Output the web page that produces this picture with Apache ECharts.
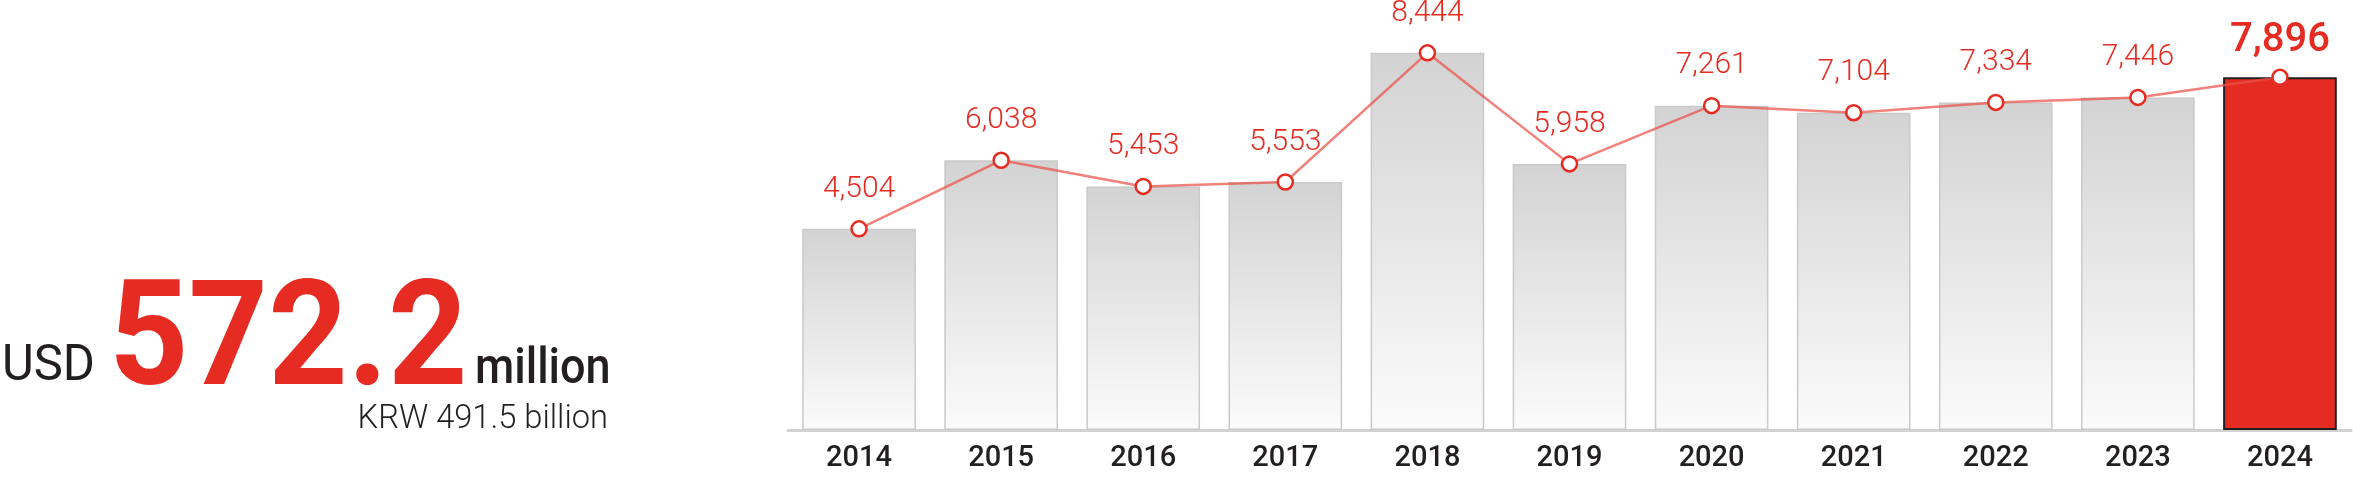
<!DOCTYPE html>
<html>
<head>
<meta charset="utf-8">
<style>
  html, body { margin: 0; padding: 0; background: #fff; }
  #chart { width: 2353px; height: 478px; }
</style>
<script src="https://cdn.jsdelivr.net/npm/echarts@6/dist/echarts.min.js"></script>
</head>
<body>
<div id="chart"></div>
<script>
// yearly values (bars and line share them)
const years = ['2014', '2015', '2016', '2017', '2018', '2019', '2020', '2021', '2022', '2023', '2024'];
const values = [4504, 6038, 5453, 5553, 8444, 5958, 7261, 7104, 7334, 7446, 7896];

const RED = '#e52b22';
const INK = '#231f20';

const chart = echarts.init(document.getElementById('chart'));

const last = values.length - 1;

const barData = values.map((v, i) => {
    if (i === last) {
        return { value: v, itemStyle: { color: RED, borderColor: INK, borderWidth: 2 } };
    }
    return v;
});

const lineData = values.map((v, i) => {
    if (i === last) {
        return {
            value: v,
            label: { fontSize: 40, fontWeight: 500, distance: 8 }
        };
    }
    return v;
});

// headline text, slightly narrowed horizontally
const headline = (text, x, y, font, color, scaleX, align) => ({
    type: 'text',
    x: x,
    y: y,
    scaleX: scaleX,
    style: {
        text: text,
        fill: color,
        font: font,
        align: align || 'left',
        verticalAlign: 'middle'
    }
});

const option = {
    animation: false,
    grid: { left: 788, right: 2, top: 28, bottom: 48 },
    xAxis: {
        type: 'category',
        data: years,
        axisLine: { lineStyle: { color: '#d2d2d2', width: 3 } },
        axisTick: { show: false },
        axisLabel: {
            color: INK,
            fontSize: 29,
            fontWeight: 500,
            fontFamily: 'Roboto',
            margin: 14
        }
    },
    yAxis: {
        type: 'value',
        min: 0,
        max: 9000,
        show: false,
        splitLine: { show: false }
    },
    series: [
        {
            type: 'bar',
            data: barData,
            barWidth: '80%',
            itemStyle: {
                color: new echarts.graphic.LinearGradient(0, 0, 0, 1, [
                    { offset: 0, color: '#d3d3d3' },
                    { offset: 1, color: '#fbfbfb' }
                ]),
                borderColor: '#cacaca',
                borderWidth: 1.5
            },
            z: 2
        },
        {
            type: 'line',
            data: lineData,
            symbol: 'circle',
            symbolSize: 15,
            lineStyle: { color: 'rgba(234, 80, 72, 0.72)', width: 2.5 },
            itemStyle: { color: '#fff', borderColor: RED, borderWidth: 2.5 },
            label: {
                show: true,
                position: 'top',
                distance: 16,
                color: RED,
                fontSize: 30,
                fontWeight: 300,
                fontFamily: 'Roboto',
                formatter: p => p.value.toLocaleString('en-US')
            },
            z: 5
        }
    ],
    graphic: [
        headline('USD', 2, 367, '400 50px Roboto', INK, 0.98),
        headline('572.2', 109, 347, '700 146px Roboto', RED, 0.95),
        headline('million', 475, 370, '500 50px Roboto', INK, 0.9),
        headline('KRW 491.5 billion', 608, 419, '300 34px Roboto', INK, 0.96, 'right')
    ]
};

chart.setOption(option);
</script>
</body>
</html>
